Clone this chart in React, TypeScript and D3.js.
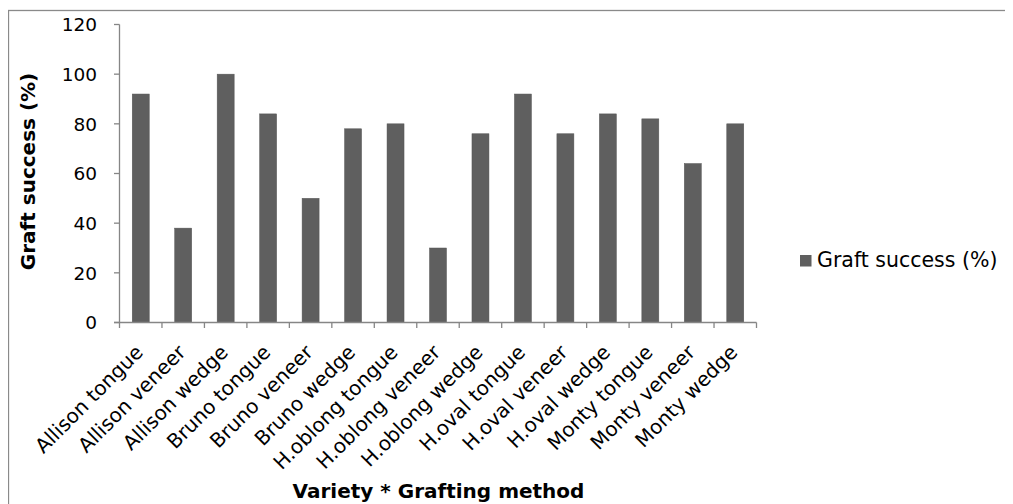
import React from "react";
import * as d3 from "d3";

const categories = [
  "Allison tongue", "Allison veneer", "Allison wedge",
  "Bruno tongue", "Bruno veneer", "Bruno wedge",
  "H.oblong tongue", "H.oblong veneer", "H.oblong wedge",
  "H.oval tongue", "H.oval veneer", "H.oval wedge",
  "Monty tongue", "Monty veneer", "Monty wedge",
];
const graftSuccess = [92, 38, 100, 84, 50, 78, 80, 30, 76, 92, 76, 84, 82, 64, 80];
const yTicks = [0, 20, 40, 60, 80, 100, 120];
const seriesName = "Graft success (%)";
const xTitle = "Variety * Grafting method";
const yTitle = "Graft success (%)";

const W = 1005;
const H = 496;
const OFF = 8; // body margin
const FONT = "'DejaVu Sans', Verdana, sans-serif";

export default function App() {
  const x0 = 119.5 - OFF, x1 = 756.5 - OFF;
  const y0 = 322.5 - OFF, y1 = 24.5 - OFF;
  const x = d3.scaleBand<string>().domain(categories).range([x0, x1]).paddingInner(0.6).paddingOuter(0.3);
  const xb = d3.scaleBand<string>().domain(categories).range([x0, x1]);
  const y = d3.scaleLinear().domain([0, 120]).range([y0, y1]);
  const axisColor = "#868686";
  const barColor = "#5f5f5f";
  return (
    <svg width={W} height={H} style={{ display: "block" }}>
      <rect x={0.5} y={2.5} width={W + 20} height={H + 20} fill="#fff" stroke="#8a8a8a" strokeWidth={1.3} />
      {/* bars */}
      {categories.map((c, i) => (
        <rect key={c} x={x(c)} y={y(graftSuccess[i])} width={x.bandwidth()} height={y0 - y(graftSuccess[i])}
          fill={barColor} stroke="#555" strokeWidth={0.5} />
      ))}
      {/* y axis */}
      <line x1={x0} x2={x0} y1={y1} y2={y0} stroke={axisColor} strokeWidth={1.3} />
      {yTicks.map((t) => (
        <g key={t}>
          <line x1={x0 - 5.5} x2={x0} y1={y(t)} y2={y(t)} stroke={axisColor} strokeWidth={1.3} />
          <text x={97 - OFF} y={y(t)} dy="0.37em" textAnchor="end" fontFamily={FONT} fontSize={18.5} fill="#000">{t}</text>
        </g>
      ))}
      {/* x axis */}
      <line x1={x0 - 5.5} x2={x1} y1={y0} y2={y0} stroke={axisColor} strokeWidth={1.3} />
      {categories.map((c) => (
        <line key={"t" + c} x1={xb(c)} x2={xb(c)} y1={y0} y2={y0 + 5.5} stroke={axisColor} strokeWidth={1.3} />
      ))}
      <line x1={x1} x2={x1} y1={y0} y2={y0 + 5.5} stroke={axisColor} strokeWidth={1.3} />
      {categories.map((c) => {
        const cx = (xb(c) as number) + xb.bandwidth() / 2 + 3.5;
        const cy = y0 + 31;
        return (
          <text key={"l" + c} transform={`translate(${cx},${cy}) rotate(-45)`} textAnchor="end"
            fontFamily={FONT} fontSize={20} fill="#000">{c}</text>
        );
      })}
      {/* axis titles */}
      <text x={438.5 - OFF} y={498 - OFF} textAnchor="middle" fontFamily={FONT} fontWeight="bold" fontSize={20} fill="#000">{xTitle}</text>
      <text transform={`translate(${35 - OFF},${171.5 - OFF}) rotate(-90)`} textAnchor="middle" fontFamily={FONT}
        fontWeight="bold" fontSize={20} fill="#000">{yTitle}</text>
      {/* legend */}
      <rect x={800 - OFF} y={255 - OFF} width={11.5} height={11.5} fill={barColor} />
      <text x={817 - OFF} y={267 - OFF} fontFamily={FONT} fontSize={20.5} fill="#000">{seriesName}</text>
    </svg>
  );
}
